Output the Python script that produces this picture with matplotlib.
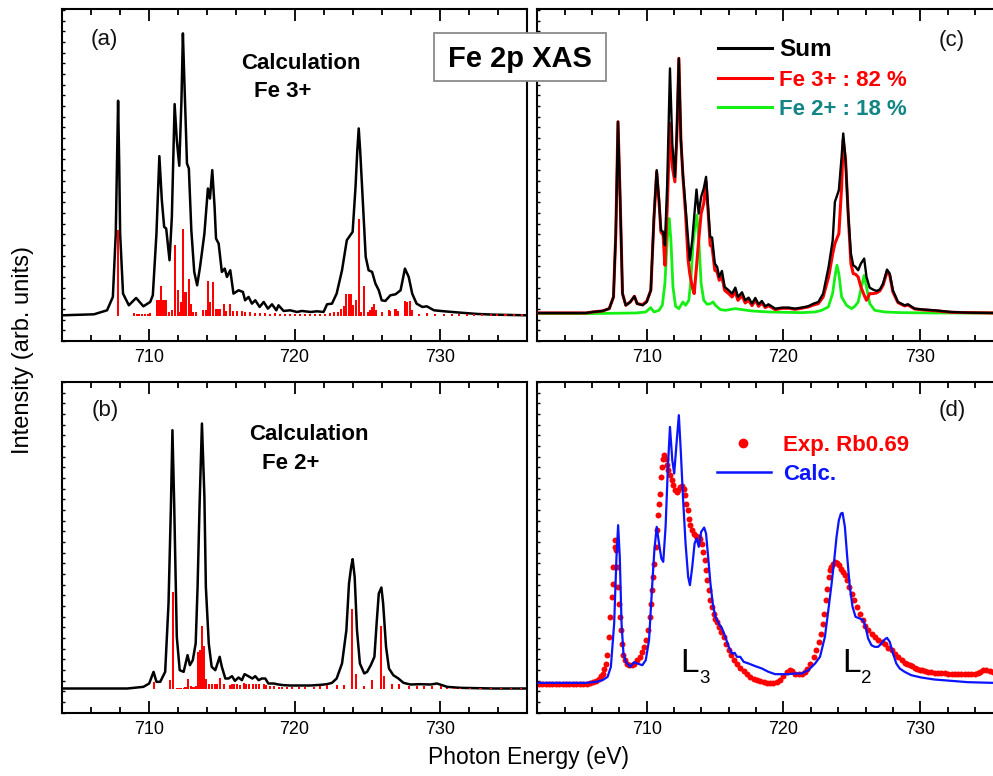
import matplotlib
matplotlib.use('Agg')
import matplotlib.pyplot as plt
from matplotlib.ticker import MultipleLocator, NullLocator
from matplotlib.patches import Rectangle
from matplotlib.lines import Line2D

plt.rcParams['font.family'] = ['Liberation Sans', 'DejaVu Sans']

# ---------------- data (photon energy eV, intensity arb. units) ----------------
a_sum = [(704.0, 7.7), (706.2, 8.0), (707.1, 9.2), (707.5, 13.2), (707.7, 32.2), (707.78, 52.2),
         (707.86, 72.0), (707.94, 52.2), (708.0, 32.2), (708.2, 14.2), (708.6, 10.7), (709.1, 12.9),
         (709.6, 10.4), (710.07, 11.7), (710.25, 13.7), (710.5, 32.2), (710.7, 55.4), (710.87, 42.2),
         (711.03, 34.2), (711.17, 33.7), (711.4, 24.2), (711.56, 37.2), (711.66, 55.0), (711.75, 71.0),
         (711.9, 60.2), (712.07, 52.5), (712.22, 72.0), (712.32, 92.2), (712.42, 78.0), (712.5, 67.2),
         (712.6, 53.2), (712.73, 51.7), (712.9, 33.2), (713.1, 20.7), (713.3, 16.7), (713.5, 22.2),
         (713.8, 32.2), (714.04, 45.7), (714.18, 42.7), (714.34, 51.2), (714.5, 40.2), (714.6, 30.7),
         (714.78, 29.2), (715.0, 20.7), (715.2, 21.7), (715.35, 19.2), (715.58, 21.2), (715.8, 14.2),
         (716.15, 15.2), (716.45, 14.7), (716.6, 12.2), (716.84, 13.2), (717.07, 11.2), (717.3, 12.2),
         (717.6, 10.2), (717.88, 11.7), (718.17, 9.7), (718.45, 11.0), (718.75, 9.2), (718.9, 10.7),
         (719.25, 9.0), (719.7, 9.2), (720.17, 8.7), (720.5, 9.0), (721.1, 8.7), (721.55, 8.9),
         (722.0, 8.7), (722.24, 11.0), (722.58, 11.2), (722.9, 14.2), (723.27, 21.2), (723.6, 30.2),
         (724.0, 32.7), (724.2, 46.2), (724.32, 57.0), (724.42, 63.7), (724.52, 57.0), (724.65, 46.2),
         (724.9, 25.2), (725.1, 21.2), (725.34, 20.7), (725.57, 17.2), (725.8, 15.2), (726.0, 12.2),
         (726.25, 12.0), (726.6, 13.7), (726.95, 14.0), (727.3, 15.2), (727.6, 21.7), (727.86, 19.2),
         (728.1, 14.2), (728.4, 11.2), (728.8, 10.2), (729.1, 10.4), (729.6, 9.2), (730.3, 8.9),
         (731.4, 8.5), (732.6, 8.1), (733.7, 7.9), (736.0, 7.7)]

a_stick_base = 7.4
a_sticks = [(707.86, 26.0), (708.97, 1.0), (709.15, 0.8), (709.33, 0.7), (709.52, 0.6), (709.70, 0.7),
            (709.89, 0.8), (710.07, 1.0), (710.53, 5.0), (710.64, 5.0), (710.78, 9.1), (710.92, 4.8),
            (711.06, 5.0), (711.17, 5.0), (711.35, 1.3), (711.58, 1.8), (711.75, 21.3), (711.95, 8.0),
            (712.09, 1.3), (712.18, 4.3), (712.32, 26.3), (712.41, 7.3), (712.55, 7.3), (712.71, 11.3),
            (712.87, 3.8), (713.01, 1.3), (713.24, 1.3), (713.70, 2.0), (713.88, 2.0), (714.06, 10.6),
            (714.18, 4.3), (714.39, 10.3), (714.57, 2.3), (714.71, 2.3), (714.89, 2.3), (715.12, 3.6),
            (715.30, 1.6), (715.58, 3.8), (715.76, 1.6), (716.04, 1.6), (716.38, 1.6), (716.61, 1.3),
            (716.96, 1.3), (717.30, 1.1), (717.65, 1.1), (717.99, 1.1), (718.34, 0.8), (718.68, 1.0),
            (719.02, 0.8), (719.37, 0.8), (719.71, 0.8), (720.06, 0.8), (720.40, 0.8), (720.75, 0.8),
            (721.09, 0.8), (721.44, 0.8), (721.78, 0.8), (722.12, 0.8), (722.47, 1.0), (722.74, 1.3),
            (723.02, 1.3), (723.20, 2.3), (723.39, 3.0), (723.55, 6.8), (723.73, 6.8), (723.87, 6.8),
            (724.03, 3.3), (724.26, 4.8), (724.42, 29.3), (724.58, 1.3), (724.76, 9.1), (725.04, 1.3),
            (725.18, 1.8), (725.31, 2.8), (725.45, 3.8), (725.59, 1.8), (726.03, 1.3), (726.49, 1.8),
            (726.60, 1.6), (726.95, 2.3), (727.11, 1.6), (727.59, 4.5), (727.75, 4.3), (727.93, 4.5),
            (728.09, 1.8), (728.55, 0.8), (729.13, 1.0), (729.70, 0.8), (730.28, 0.8), (730.85, 0.8),
            (731.31, 0.8), (731.88, 0.8), (732.34, 0.6), (732.92, 0.6), (733.49, 0.6), (733.95, 0.6),
            (734.52, 0.6), (735.10, 0.6), (735.67, 0.6)]

b_sum = [(704.0, 7.2), (708.5, 7.2), (709.6, 7.7), (710.0, 8.7), (710.3, 12.2), (710.5, 9.2),
         (710.76, 9.2), (711.1, 12.2), (711.33, 32.7), (711.5, 62.7), (711.6, 84.7), (711.72, 62.7),
         (711.9, 22.7), (712.1, 12.7), (712.37, 12.2), (712.64, 17.2), (712.8, 14.2), (713.0, 15.7),
         (713.2, 20.7), (713.33, 37.7), (713.47, 62.7), (713.63, 86.7), (713.8, 64.7), (713.9, 37.7),
         (714.1, 20.7), (714.3, 13.7), (714.55, 12.7), (714.85, 16.7), (715.0, 13.7), (715.24, 10.2),
         (715.46, 10.2), (715.7, 10.9), (715.9, 9.5), (716.15, 10.5), (716.38, 9.7), (716.56, 11.5),
         (716.7, 11.2), (716.9, 10.7), (717.1, 10.2), (717.3, 10.9), (717.53, 9.7), (717.75, 10.2),
         (717.99, 10.2), (718.2, 8.7), (718.56, 8.7), (718.9, 8.4), (719.25, 8.2), (719.7, 8.1),
         (720.4, 8.1), (721.1, 8.1), (721.8, 8.3), (722.24, 8.5), (722.58, 8.9), (722.9, 10.2),
         (723.27, 14.7), (723.57, 24.7), (723.75, 38.7), (723.9, 43.7), (724.0, 46.0), (724.14, 40.7),
         (724.3, 24.7), (724.5, 14.7), (724.8, 11.7), (725.0, 12.2), (725.25, 14.2), (725.5, 16.7),
         (725.65, 26.7), (725.8, 35.7), (725.98, 37.5), (726.1, 32.7), (726.3, 19.7), (726.5, 13.2),
         (726.8, 11.2), (727.15, 10.2), (727.5, 8.9), (727.98, 8.4), (728.67, 8.5), (729.36, 8.4),
         (729.8, 8.7), (730.16, 8.2), (730.5, 7.7), (731.4, 7.4), (733.7, 7.2), (736.0, 7.2)]

b_stick_base = 7.0
b_sticks = [(710.30, 2.2), (711.45, 2.9), (711.61, 29.2), (711.91, 0.5), (712.04, 0.5), (712.18, 0.5),
            (712.37, 0.5), (712.50, 0.7), (712.69, 3.2), (712.87, 0.9), (713.05, 0.7), (713.24, 0.9),
            (713.35, 11.2), (713.51, 11.7), (713.63, 18.9), (713.74, 12.9), (713.93, 3.2), (714.13, 1.5),
            (714.32, 1.7), (714.55, 1.7), (714.66, 1.7), (714.85, 3.5), (715.12, 1.5), (715.53, 1.2),
            (715.69, 1.7), (715.81, 1.5), (716.04, 1.5), (716.27, 1.2), (716.54, 1.9), (716.68, 1.7),
            (716.87, 1.7), (717.14, 1.7), (717.32, 1.5), (717.55, 1.7), (717.88, 1.5), (718.06, 1.2),
            (718.34, 0.9), (718.57, 0.9), (718.91, 0.7), (719.14, 0.7), (719.48, 0.7), (719.83, 0.7),
            (720.29, 0.7), (720.75, 0.7), (721.32, 0.7), (721.78, 0.9), (722.24, 1.2), (722.93, 1.2),
            (723.39, 1.2), (723.94, 24.2), (724.21, 4.5), (724.76, 0.9), (725.34, 2.7), (725.98, 18.9),
            (726.19, 3.9), (726.72, 1.5), (727.18, 1.5), (727.87, 0.9), (728.44, 0.9), (728.90, 0.9),
            (729.47, 0.9), (730.05, 0.9), (730.51, 0.5), (730.97, 0.5), (731.42, 0.5), (732.11, 0.5),
            (732.80, 0.5), (733.49, 0.5), (734.18, 0.5), (734.87, 0.5), (735.56, 0.5)]

c_sum = [(702.09, 8.4), (705.56, 8.4), (706.04, 8.7), (706.77, 9.0), (707.26, 9.7), (707.57, 13.2),
         (707.74, 32.2), (707.9, 65.7), (708.06, 42.2), (708.23, 14.2), (708.47, 10.7), (708.8, 11.7),
         (709.1, 13.4), (709.3, 11.2), (709.7, 10.7), (710.0, 11.7), (710.3, 15.2), (710.53, 37.2),
         (710.73, 51.2), (710.9, 42.2), (711.04, 33.2), (711.2, 32.7), (711.33, 28.7), (711.5, 47.2),
         (711.7, 81.7), (711.87, 59.2), (712.06, 49.2), (712.2, 62.2), (712.35, 84.7), (712.5, 60.2),
         (712.65, 49.7), (712.84, 40.2), (713.03, 30.2), (713.15, 24.2), (713.33, 30.2), (713.47, 37.2),
         (713.64, 45.4), (713.8, 38.2), (713.98, 43.2), (714.17, 45.7), (714.34, 49.2), (714.5, 39.2),
         (714.64, 31.2), (714.78, 31.0), (714.98, 23.2), (715.15, 22.2), (715.3, 19.2), (715.5, 21.0),
         (715.7, 16.2), (715.99, 15.2), (716.24, 14.2), (716.48, 16.0), (716.67, 13.2), (716.97, 14.6),
         (717.2, 12.2), (717.45, 13.0), (717.7, 11.2), (717.94, 12.9), (718.18, 11.0), (718.42, 12.0),
         (718.67, 10.4), (718.9, 11.0), (719.4, 9.7), (719.9, 10.0), (720.4, 10.0), (720.85, 9.7),
         (721.3, 10.0), (721.8, 10.4), (722.2, 11.2), (722.55, 11.7), (722.9, 14.2), (723.3, 22.2),
         (723.6, 30.2), (723.76, 41.7), (724.05, 45.2), (724.25, 55.2), (724.37, 62.2), (724.54, 54.2),
         (724.73, 38.2), (724.93, 26.2), (725.1, 22.7), (725.27, 22.2), (725.46, 21.2), (725.66, 23.2),
         (725.9, 24.7), (726.07, 19.2), (726.3, 16.0), (726.55, 15.4), (726.8, 15.0), (727.04, 15.4),
         (727.28, 17.2), (727.57, 21.4), (727.77, 20.2), (728.0, 15.2), (728.37, 11.7), (728.86, 10.7),
         (729.1, 11.0), (729.59, 9.7), (730.3, 9.4), (731.04, 9.2), (732.26, 8.7), (733.47, 8.5),
         (735.27, 8.4), (736.0, 8.4)]

c_fe3 = [(702.09, 8.4), (705.56, 8.4), (706.04, 8.7), (706.77, 9.0), (707.26, 9.7), (707.57, 13.2),
         (707.74, 32.2), (707.9, 65.7), (708.06, 42.2), (708.23, 14.2), (708.47, 10.7), (708.8, 11.7),
         (709.1, 13.4), (709.3, 11.2), (709.7, 10.9), (710.0, 11.9), (710.3, 15.2), (710.53, 36.7),
         (710.73, 50.7), (710.9, 41.7), (711.04, 32.7), (711.2, 31.7), (711.33, 22.7), (711.5, 40.2),
         (711.7, 65.2), (711.87, 52.2), (712.06, 47.7), (712.2, 61.2), (712.35, 84.7), (712.5, 60.2),
         (712.65, 49.2), (712.84, 38.2), (713.03, 24.2), (713.15, 20.2), (713.33, 16.2), (713.47, 14.2),
         (713.64, 22.2), (713.8, 30.2), (713.98, 38.2), (714.17, 41.2), (714.34, 47.7), (714.5, 38.2),
         (714.64, 28.7), (714.78, 28.2), (714.98, 21.2), (715.15, 20.7), (715.3, 18.2), (715.5, 19.2),
         (715.7, 15.2), (715.99, 14.2), (716.24, 13.2), (716.48, 14.7), (716.67, 12.2), (716.97, 13.6),
         (717.2, 11.4), (717.45, 12.2), (717.7, 10.6), (717.94, 12.2), (718.18, 10.4), (718.42, 11.4),
         (718.67, 10.0), (718.9, 10.6), (719.4, 9.4), (719.9, 9.8), (720.4, 9.8), (720.85, 9.5),
         (721.3, 9.8), (721.8, 10.2), (722.2, 10.8), (722.55, 11.2), (722.9, 13.2), (723.3, 19.2),
         (723.6, 26.2), (723.76, 29.2), (724.05, 32.2), (724.25, 46.2), (724.37, 60.2), (724.54, 54.2),
         (724.73, 38.2), (724.93, 23.2), (725.1, 20.2), (725.27, 20.0), (725.46, 19.2), (725.66, 16.2),
         (725.9, 13.7), (726.07, 12.2), (726.3, 14.2), (726.55, 14.2), (726.8, 14.4), (727.04, 15.0),
         (727.28, 16.7), (727.57, 20.7), (727.77, 19.7), (728.0, 14.7), (728.37, 11.5), (728.86, 10.5),
         (729.1, 10.8), (729.59, 9.6), (730.3, 9.3), (731.04, 9.1), (732.26, 8.6), (733.47, 8.5),
         (735.27, 8.4), (736.0, 8.4)]

c_fe2 = [(702.09, 8.2), (705.56, 8.2), (709.2, 8.4), (709.93, 8.7), (710.29, 10.0), (710.53, 8.7),
         (710.9, 9.2), (711.14, 10.7), (711.33, 17.2), (711.5, 30.2), (711.65, 36.7), (711.77, 30.2),
         (711.92, 16.2), (712.11, 10.4), (712.35, 9.7), (712.65, 11.7), (712.84, 10.7), (713.08, 12.2),
         (713.23, 18.2), (713.37, 28.2), (713.52, 34.2), (713.67, 37.7), (713.81, 30.2), (713.98, 17.2),
         (714.17, 12.2), (714.42, 11.0), (714.66, 11.2), (714.85, 11.7), (715.02, 10.7), (715.39, 9.4),
         (715.75, 9.2), (716.48, 9.7), (716.97, 9.4), (717.69, 9.0), (718.9, 8.7), (720.12, 8.6),
         (721.33, 8.5), (722.31, 8.7), (722.79, 9.2), (723.28, 10.2), (723.59, 14.2), (723.76, 19.2),
         (723.91, 22.7), (724.05, 20.2), (724.25, 13.2), (724.61, 10.7), (724.98, 9.7), (725.22, 10.4),
         (725.46, 11.7), (725.7, 16.2), (725.9, 19.7), (726.07, 16.2), (726.31, 11.2), (726.67, 9.2),
         (727.4, 8.7), (728.62, 8.5), (731.04, 8.4), (736.0, 8.4)]

d_calc = [(702.09, 8.9), (705.56, 8.9), (706.29, 9.2), (706.77, 9.7), (707.14, 10.7), (707.38, 13.7),
          (707.62, 26.7), (707.79, 46.7), (707.91, 56.2), (708.03, 46.7), (708.16, 26.7), (708.3, 17.7),
          (708.47, 15.2), (708.79, 13.7), (709.08, 15.1), (709.32, 14.7), (709.68, 14.2), (709.93, 15.7),
          (710.17, 21.7), (710.41, 38.7), (710.56, 48.7), (710.73, 55.7), (710.9, 50.7), (711.07, 46.2),
          (711.21, 45.2), (711.38, 55.7), (711.55, 73.7), (711.7, 85.7), (711.87, 75.7), (712.01, 71.7),
          (712.18, 80.7), (712.35, 89.2), (712.5, 77.7), (712.65, 64.7), (712.84, 50.7), (713.03, 40.7),
          (713.16, 38.2), (713.33, 43.7), (713.5, 50.7), (713.64, 52.2), (713.81, 49.7), (713.98, 54.2),
          (714.2, 55.5), (714.34, 53.7), (714.49, 46.7), (714.66, 38.7), (714.83, 32.7), (715.02, 28.7),
          (715.27, 26.7), (715.51, 25.2), (715.75, 22.7), (716.0, 19.7), (716.24, 17.7), (716.43, 17.9),
          (716.6, 16.7), (716.84, 16.7), (717.09, 15.2), (717.45, 14.7), (717.94, 13.9), (718.42, 13.2),
          (718.9, 12.2), (719.39, 11.5), (719.88, 11.5), (720.36, 11.5), (720.85, 11.7), (721.33, 11.7),
          (721.82, 12.7), (722.31, 14.7), (722.67, 16.7), (723.03, 22.7), (723.28, 30.7), (723.52, 38.7),
          (723.71, 45.7), (723.88, 52.7), (724.05, 57.7), (724.2, 59.7), (724.32, 59.9), (724.49, 55.7),
          (724.66, 46.7), (724.85, 37.7), (725.05, 31.7), (725.27, 28.7), (725.58, 28.2), (725.83, 27.7),
          (726.0, 25.7), (726.19, 22.2), (726.43, 20.2), (726.67, 19.7), (726.92, 19.7), (727.16, 20.7),
          (727.4, 21.9), (727.57, 22.4), (727.77, 21.2), (728.01, 17.7), (728.25, 14.7), (728.5, 13.2),
          (728.86, 12.2), (729.34, 11.2), (730.07, 10.5), (731.04, 9.9), (732.26, 9.5), (733.47, 9.1),
          (735.27, 8.9), (736.0, 8.9)]

d_exp = [(702.1, 8.7), (702.35, 8.6), (702.6, 8.5), (702.85, 8.5), (703.1, 8.5), (703.35, 8.5),
         (703.6, 8.5), (703.85, 8.5), (704.1, 8.5), (704.35, 8.5), (704.6, 8.5), (704.85, 8.6),
         (705.1, 8.6), (705.35, 8.6), (705.6, 8.7), (705.85, 8.9), (706.1, 9.2), (706.3, 9.6),
         (706.5, 10.2), (706.65, 11.0), (706.77, 11.7), (706.9, 13.0), (707.01, 14.7), (707.13, 17.2),
         (707.25, 22.7), (707.35, 28.7), (707.43, 34.7), (707.5, 38.7), (707.57, 43.7), (707.65, 49.7),
         (707.7, 51.7), (707.77, 48.7), (707.82, 43.7), (707.89, 37.7), (707.96, 32.7), (708.04, 28.7),
         (708.11, 24.7), (708.18, 20.7), (708.28, 17.2), (708.38, 15.7), (708.53, 14.7), (708.72, 14.2),
         (708.91, 14.2), (709.1, 14.7), (709.3, 15.7), (709.49, 16.7), (709.68, 18.2), (709.83, 19.7),
         (709.97, 21.7), (710.12, 24.7), (710.24, 28.7), (710.34, 32.7), (710.41, 36.7), (710.49, 40.7),
         (710.56, 44.7), (710.66, 49.7), (710.73, 54.7), (710.83, 59.2), (710.92, 62.7), (711.0, 65.7),
         (711.07, 70.7), (711.14, 73.7), (711.21, 76.2), (711.29, 77.2), (711.38, 76.2), (711.48, 74.2),
         (711.58, 72.7), (711.7, 71.2), (711.82, 69.7), (711.94, 68.2), (712.06, 66.9), (712.18, 66.2),
         (712.31, 66.7), (712.45, 67.7), (712.6, 67.9), (712.7, 67.2), (712.79, 65.2), (712.89, 62.7),
         (712.99, 60.7), (713.08, 58.2), (713.2, 56.2), (713.33, 54.7), (713.45, 53.5), (713.57, 52.9),
         (713.69, 52.7), (713.81, 52.7), (713.93, 52.2), (714.05, 50.7), (714.15, 48.2), (714.25, 45.7),
         (714.34, 42.7), (714.44, 39.7), (714.54, 36.7), (714.66, 33.7), (714.78, 31.7), (714.9, 29.7),
         (715.02, 28.2), (715.17, 27.2), (715.32, 25.7), (715.46, 24.2), (715.63, 22.7), (715.8, 20.7),
         (716.0, 18.7), (716.19, 17.2), (716.38, 15.9), (716.6, 14.7), (716.84, 13.5), (717.09, 12.4),
         (717.33, 11.5), (717.57, 10.7), (717.82, 10.1), (718.06, 9.7), (718.3, 9.5), (718.54, 9.1),
         (718.79, 8.9), (719.03, 8.9), (719.27, 8.9), (719.51, 9.2), (719.76, 9.9), (720.0, 10.9),
         (720.24, 12.2), (720.46, 12.7), (720.63, 12.5), (720.87, 11.7), (721.12, 11.5), (721.36, 11.7),
         (721.55, 12.2), (721.75, 13.2), (721.97, 14.7), (722.21, 16.7), (722.4, 18.7), (722.57, 21.2),
         (722.72, 23.7), (722.86, 26.7), (722.99, 29.7), (723.11, 33.7), (723.2, 37.2), (723.3, 40.7),
         (723.4, 42.7), (723.5, 43.7), (723.62, 44.7), (723.74, 45.2), (723.88, 44.9), (724.03, 44.2),
         (724.17, 43.2), (724.32, 42.2), (724.47, 41.2), (724.64, 39.7), (724.81, 37.7), (725.0, 35.7),
         (725.19, 33.7), (725.39, 31.7), (725.58, 29.7), (725.78, 27.7), (725.97, 25.9), (726.21, 24.7),
         (726.46, 23.7), (726.7, 22.7), (726.94, 21.9), (727.18, 21.2), (727.43, 20.5), (727.67, 19.5),
         (727.91, 18.7), (728.16, 17.5), (728.4, 16.7), (728.64, 15.7), (728.88, 15.0), (729.0, 14.7),
         (729.25, 14.2), (729.37, 13.9), (729.6, 13.5), (729.73, 13.2), (730.0, 12.9), (730.1, 12.7),
         (730.35, 12.4), (730.58, 12.2), (730.82, 12.1), (731.07, 12.0), (731.3, 12.0), (731.55, 11.9),
         (731.8, 11.8), (732.04, 11.7), (732.3, 11.7), (732.53, 11.7), (732.78, 11.6), (733.01, 11.5),
         (733.25, 11.5), (733.5, 11.5), (733.74, 11.6), (733.98, 11.7), (734.2, 12.0), (734.34, 12.2),
         (734.58, 12.7), (734.82, 12.7), (735.07, 12.5), (735.3, 12.2), (735.55, 12.2), (735.8, 12.2)]

x_major_ticks = [710, 720, 730]
legend_c = ['Sum', 'Fe 3+ : 82 %', 'Fe 2+ : 18 %']
legend_d = ['Exp. Rb0.69', 'Calc.']


def unzip(pairs):
    return [p[0] for p in pairs], [p[1] for p in pairs]


# ---------------- figure ----------------
W, H = 993, 776
fig = plt.figure(figsize=(W / 100, H / 100), dpi=100)


def px_axes(x0, y0, x1, y1):
    return fig.add_axes([x0 / W, 1 - y1 / H, (x1 - x0) / W, (y1 - y0) / H])


ax_a = px_axes(62, 9, 527, 341)
ax_c = px_axes(537.3, 9, 1002.3, 341)
ax_b = px_axes(62, 381.7, 527, 712.5)
ax_d = px_axes(537.3, 381.7, 1002.3, 712.5)

for ax in (ax_a, ax_b):
    ax.set_xlim(704, 736)
for ax in (ax_c, ax_d):
    ax.set_xlim(702, 736)
for ax in (ax_a, ax_c):
    ax.set_ylim(0, 99.5)
for ax in (ax_b, ax_d):
    ax.set_ylim(0, 99.25)

for ax in (ax_a, ax_b, ax_c, ax_d):
    for s in ax.spines.values():
        s.set_linewidth(1.5)
    ax.set_xticks(x_major_ticks)
    ax.xaxis.set_minor_locator(MultipleLocator(2))
    ax.yaxis.set_major_locator(NullLocator())
    ax.yaxis.set_minor_locator(MultipleLocator(3.2))
    ax.tick_params(axis='x', which='both', direction='in', top=True, bottom=True,
                   labelsize=13, pad=6, colors='black')
    ax.tick_params(axis='x', which='major', length=8.6, width=1.3)
    ax.tick_params(axis='x', which='minor', length=4.3, width=1.3)
    ax.tick_params(axis='y', which='minor', direction='in', left=True, length=2.0, width=1.0)
    ax.tick_params(axis='y', labelleft=False)

# (a) Fe3+ calculation
x, y = unzip(a_sum)
ax_a.plot(x, y, color='black', lw=1.8, zorder=2)
sx, sh = unzip(a_sticks)
ax_a.bar(sx, sh, width=0.14, bottom=a_stick_base, color='#ff0000', linewidth=0, zorder=3)

# (b) Fe2+ calculation
x, y = unzip(b_sum)
ax_b.plot(x, y, color='black', lw=1.8, zorder=2)
sx, sh = unzip(b_sticks)
ax_b.bar(sx, sh, width=0.14, bottom=b_stick_base, color='#ff0000', linewidth=0, zorder=3)

# (c) weighted sum
x, y = unzip(c_fe2)
ax_c.plot(x, y, color='#14f014', lw=2.0, zorder=2)
x, y = unzip(c_fe3)
ax_c.plot(x, y, color='#ff0000', lw=2.2, zorder=3)
x, y = unzip(c_sum)
ax_c.plot(x, y, color='black', lw=1.7, zorder=4)

# (d) experiment vs calculation
x, y = unzip(d_exp)
ax_d.plot(x, y, linestyle='none', marker='o', ms=4.3, color='#ff0000', mec='none', zorder=2)
x, y = unzip(d_calc)
ax_d.plot(x, y, color='#0a14ff', lw=1.6, zorder=3)

# panel labels and annotations
tk = dict(fontsize=16, va='baseline', ha='left', color='#111111')
ax_a.text(0.0617, 0.8916, '(a)', transform=ax_a.transAxes, **tk)
ax_b.text(0.0639, 0.8972, '(b)', transform=ax_b.transAxes, **tk)
ax_c.text(0.8624, 0.8886, '(c)', transform=ax_c.transAxes, **tk)
ax_d.text(0.8624, 0.8972, '(d)', transform=ax_d.transAxes, **tk)

bk = dict(fontsize=16, fontweight='bold', va='baseline', ha='left')
ax_a.text(0.3843, 0.8184, 'Calculation', transform=ax_a.transAxes, **bk)
ax_a.text(0.4129, 0.734, 'Fe 3+', transform=ax_a.transAxes, **bk)
ax_b.text(0.4022, 0.8238, 'Calculation', transform=ax_b.transAxes, **bk)
ax_b.text(0.4308, 0.7361, 'Fe 2+', transform=ax_b.transAxes, **bk)

# legend (c)
for (yl, yt, col, tcol, lab, fs) in [(0.8816, 0.8584, 'black', 'black', legend_c[0], 17.5),
                                     (0.793, 0.768, '#ff0000', '#ff0000', legend_c[1], 16),
                                     (0.7057, 0.6807, '#14f014', '#138585', legend_c[2], 16)]:
    ax_c.add_line(Line2D([0.3892, 0.5054], [yl, yl], transform=ax_c.transAxes, color=col, lw=2.2))
    ax_c.text(0.5204, yt, lab, transform=ax_c.transAxes, color=tcol, fontsize=fs,
              fontweight='bold', va='baseline', ha='left')

# legend (d)
ax_d.plot([0.443], [0.8156], transform=ax_d.transAxes, marker='o', ms=7, color='#ff0000',
          mec='none', linestyle='none')
ax_d.text(0.529, 0.7905, legend_d[0], transform=ax_d.transAxes, color='#ff0000', fontsize=16,
          fontweight='bold', va='baseline', ha='left')
ax_d.add_line(Line2D([0.3858, 0.5026], [0.728, 0.728], transform=ax_d.transAxes, color='#0a14ff', lw=1.8))
ax_d.text(0.529, 0.7028, legend_d[1], transform=ax_d.transAxes, color='#0a14ff', fontsize=16,
          fontweight='bold', va='baseline', ha='left')

# L3 / L2 edge labels
ax_d.text(0.3069, 0.1234, 'L', transform=ax_d.transAxes, fontsize=24, va='baseline', ha='left')
ax_d.text(0.3480, 0.0883, '3', transform=ax_d.transAxes, fontsize=13.5, va='baseline', ha='left')
ax_d.text(0.6559, 0.1234, 'L', transform=ax_d.transAxes, fontsize=24, va='baseline', ha='left')
ax_d.text(0.6970, 0.0883, '2', transform=ax_d.transAxes, fontsize=13.5, va='baseline', ha='left')

# title box
fig.add_artist(Rectangle((434 / W, 1 - 80.7 / H), 172 / W, 48 / H, transform=fig.transFigure,
                         facecolor='white', edgecolor='#8a8a8a', lw=1.3, zorder=10))
fig.text(520 / W, 1 - 67.3 / H, 'Fe 2p XAS', ha='center', va='baseline', fontsize=21,
         fontweight='bold', zorder=11)

# axis titles
fig.text(23 / W, 1 - 350 / H, 'Intensity (arb. units)', rotation=90, ha='center', va='center',
         fontsize=17)
fig.text(529 / W, 1 - 764.3 / H, 'Photon Energy (eV)', ha='center', va='baseline', fontsize=16.5)

fig.savefig('out.png', dpi=100)
